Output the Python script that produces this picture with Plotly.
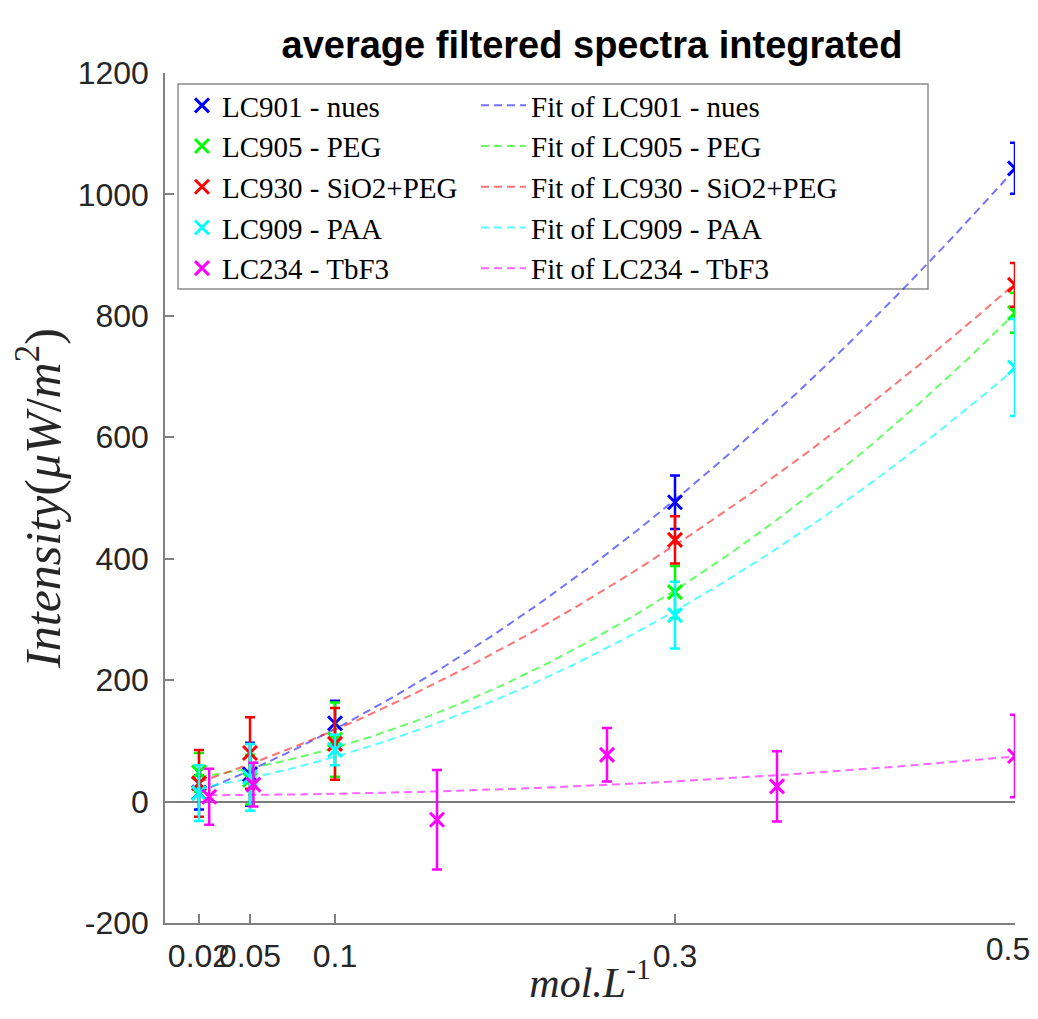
import numpy as np
import plotly.graph_objects as go

# ---- data ----
conc = [0.02, 0.05, 0.1, 0.3, 0.5]
conc_tb = [0.026, 0.052, 0.16, 0.26, 0.36, 0.5]

names = ["LC901 - nues", "LC905 - PEG", "LC930 - SiO2+PEG", "LC909 - PAA", "LC234 - TbF3"]

lc901 = [15, 45, 129, 493, 1043]
lc901_err = [28, 52, 37, 44, 42]
lc905 = [48, 36, 102, 345, 805]
lc905_err = [32, 41, 61, 43, 33]
lc930 = [30, 80, 95, 431, 851]
lc930_err = [55, 59, 59, 39, 36]
lc909 = [14, 40, 85, 307, 715]
lc909_err = [46, 55, 25, 55, 80]
lc234 = [8, 28, -30, 77, 25, 75]
lc234_err = [46, 36, 82, 44, 58, 68]

xtick_vals = [0.02, 0.05, 0.1, 0.3, 0.5]
xtick_text = ["0.02", "0.05", "0.1", "0.3", "0.5"]
ytick_vals = [-200, 0, 200, 400, 600, 800, 1000, 1200]
ytick_text = ["-200", "0", "200", "400", "600", "800", "1000", "1200"]

colors = ["#0000ff", "#00ff00", "#ff0000", "#00ffff", "#ff00ff"]
fit_colors = ["rgba(0,0,255,0.55)", "rgba(0,255,0,0.6)", "rgba(255,0,0,0.55)",
              "rgba(0,255,255,0.65)", "rgba(255,0,255,0.6)"]

series = [
    (conc, lc901, lc901_err),
    (conc, lc905, lc905_err),
    (conc, lc930, lc930_err),
    (conc, lc909, lc909_err),
    (conc_tb, lc234, lc234_err),
]

fig = go.Figure()
# fits first (drawn beneath), listed in legend2
for (xs, ys, es), name, fc in zip(series, names, fit_colors):
    coef = np.polyfit(xs, ys, 2)
    xf = np.linspace(min(xs), max(xs), 200)
    fig.add_trace(go.Scatter(
        x=xf, y=np.polyval(coef, xf), mode="lines", name="Fit of " + name,
        line=dict(color=fc, width=2, dash="8px,5px"), legend="legend2",
    ))
for (xs, ys, es), name, c in zip(series, names, colors):
    fig.add_trace(go.Scatter(
        x=xs, y=ys, mode="markers", name=name, legend="legend",
        marker=dict(symbol="x-thin", size=14, line=dict(width=3, color=c), color=c),
        error_y=dict(type="data", array=es, visible=True, thickness=2.5, width=5, color=c),
    ))
# invisible copy on the overlay axis so that axis (carrying the last tick label) is drawn
fig.add_trace(go.Scatter(
    x=conc, y=lc901, xaxis="x2", yaxis="y", mode="markers",
    marker=dict(opacity=0), showlegend=False, hoverinfo="skip",
))

# page has an 8px body margin; plot area spans x 165..1015, y 73..923 on screen
OFF = 8
W, H = 1030, 998
L, T = 165 - OFF, 73 - OFF
R = W - (1015 - OFF)
B = H - (923 - OFF)
pw, ph = W - L - R, H - T - B


def px(xs):
    return (xs - 165) / pw


def py(ys):
    return (923 - ys) / ph


leg_font = dict(family="Liberation Serif, serif", size=29, color="#000000")
axis_font = dict(family="Liberation Sans, Arial, sans-serif", size=32, color="#262626")

fig.update_layout(
    width=W, height=H,
    margin=dict(l=L, r=R, t=T, b=B, autoexpand=False),
    plot_bgcolor="white", paper_bgcolor="white",
    title=dict(text="<b>average filtered spectra integrated</b>",
               x=px(592), xref="paper", xanchor="center",
               y=1 - (45 - OFF) / H, yref="container", yanchor="middle",
               font=dict(family="Liberation Sans, Arial, sans-serif", size=38, color="#000000")),
    legend=dict(x=px(182), y=py(80), xanchor="left", yanchor="top",
                bgcolor="rgba(0,0,0,0)", borderwidth=0, font=leg_font,
                itemwidth=30, tracegroupgap=0),
    legend2=dict(x=px(476), y=py(80), xanchor="left", yanchor="top",
                 bgcolor="rgba(0,0,0,0)", borderwidth=0, font=leg_font,
                 itemwidth=45, tracegroupgap=0),
    shapes=[dict(type="rect", xref="paper", yref="paper",
                 x0=px(178), x1=px(928), y0=py(289), y1=py(84),
                 line=dict(color="#8c8c8c", width=1.5), fillcolor="white", layer="below")],
)

# main x axis: all tick marks, labels except the last one (which sits at the page edge)
fig.update_layout(xaxis=dict(
    range=[0, 0.5], tickvals=xtick_vals, ticktext=xtick_text[:-1] + [""], tickangle=0,
    ticks="inside", ticklen=9, tickwidth=1.5, tickcolor="#808080",
    showline=True, linecolor="#808080", linewidth=1.5, automargin=False,
    ticklabeloverflow="allow", ticklabelstandoff=4,
    showgrid=False, zeroline=False, tickfont=axis_font,
    title=dict(text="<i>mol.L</i><sup>-1</sup>", standoff=6,
               font=dict(family="Liberation Serif, serif", size=42, color="#262626")),
))
# overlay axis carrying only the last label, nudged left so it is not clipped
fig.update_layout(xaxis2=dict(
    overlaying="x", anchor="y", side="bottom", range=[0, 0.5],
    tickvals=xtick_vals[-1:], ticktext=xtick_text[-1:], tickangle=0,
    ticks="", showline=False, showgrid=False, zeroline=False, automargin=False,
    ticklabeloverflow="allow", ticklabelstandoff=4, ticklabelshift=-7,
    tickfont=axis_font,
))
fig.update_layout(yaxis=dict(
    range=[-200, 1200], tickvals=ytick_vals, ticktext=ytick_text,
    ticks="inside", ticklen=9, tickwidth=1.5, tickcolor="#808080",
    showline=True, linecolor="#808080", linewidth=1.5, automargin=False,
    ticklabelstandoff=8,
    showgrid=False, zeroline=True, zerolinecolor="#7a7a7a", zerolinewidth=1.5,
    tickfont=axis_font,
    title=dict(text="<i>Intensity</i>(<i>μW</i>/<i>m</i><sup>2</sup>)", standoff=6,
               font=dict(family="Liberation Serif, serif", size=50, color="#262626")),
))

fig.write_html("out.html")
